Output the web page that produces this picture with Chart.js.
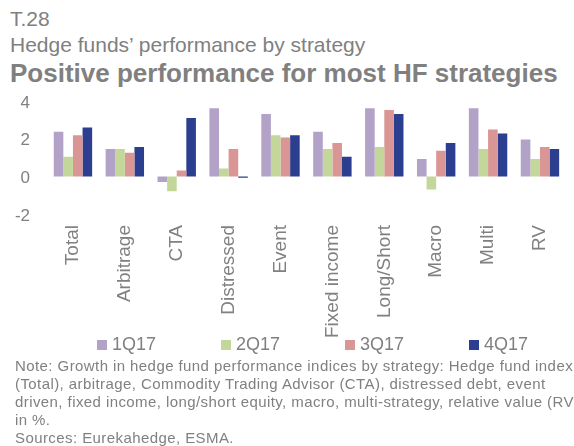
<!DOCTYPE html>
<html lang="en">
<head>
  <title>Hedge funds' performance by strategy</title>
  <script src="https://cdn.jsdelivr.net/npm/chart.js"></script>
  <style>
    body { margin: 0; width: 574px; height: 446px; overflow: hidden; background: #fff; font-family: 'Liberation Sans', Arial, sans-serif; color: #808080; position: relative; }
    .txt { position: absolute; left: 10px; white-space: nowrap; }
    #code { top: 7px; font-size: 21px; }
    #sub { top: 33px; font-size: 21px; }
    #title { top: 58px; font-size: 26px; font-weight: bold; }
    #wrap { position: absolute; left: 0; top: 74px; width: 574px; height: 270px; }
    #legend { position: absolute; top: 334px; left: 97px; display: flex; font-size: 18px; }
    #legend .item { width: 124px; display: flex; align-items: center; }
    #legend .box { width: 10px; height: 10px; margin-right: 5px; }
    #note { position: absolute; left: 15px; top: 357px; font-size: 15px; line-height: 18px; letter-spacing: 0.42px; }
    #note div { white-space: nowrap; }
  </style>
</head>
<body>
<div class="txt" id="code">T.28</div>
<div class="txt" id="sub">Hedge funds’ performance by strategy</div>
<div class="txt" id="title">Positive performance for most HF strategies</div>
<div id="wrap"><canvas id="hfChart"></canvas></div>
<div id="legend"></div>
<div id="note">
  <div>Note: Growth in hedge fund performance indices by strategy: Hedge fund index</div>
  <div>(Total), arbitrage, Commodity Trading Advisor (CTA), distressed debt, event</div>
  <div>driven, fixed income, long/short equity, macro, multi-strategy, relative value (RV)</div>
  <div>in %.</div>
  <div>Sources: Eurekahedge, ESMA.</div>
</div>

<script>
const strategies = ['Total', 'Arbitrage', 'CTA', 'Distressed', 'Event', 'Fixed income', 'Long/Short', 'Macro', 'Multi', 'RV'];
const q1 = [2.38, 1.46, -0.30, 3.63, 3.32, 2.38, 3.63, 0.93, 3.63, 1.96];
const q2 = [1.05, 1.46, -0.79, 0.42, 2.19, 1.46, 1.56, -0.70, 1.46, 0.93];
const q3 = [2.19, 1.26, 0.32, 1.46, 2.07, 1.77, 3.53, 1.37, 2.49, 1.56];
const q4 = [2.60, 1.56, 3.10, -0.07, 2.19, 1.04, 3.32, 1.77, 2.28, 1.46];
const yTicks = [-2, 0, 2, 4];

const grey = '#808080';

const chart = new Chart(document.getElementById('hfChart'), {
  type: 'bar',
  data: {
    labels: strategies,
    datasets: [
      { label: '1Q17', data: q1, backgroundColor: '#b3a2c7' },
      { label: '2Q17', data: q2, backgroundColor: '#c4d79b' },
      { label: '3Q17', data: q3, backgroundColor: '#d99694' },
      { label: '4Q17', data: q4, backgroundColor: '#2c3e8f' }
    ]
  },
  options: {
    animation: false,
    responsive: true,
    maintainAspectRatio: false,
    layout: { padding: { top: 21, right: 5, bottom: 0, left: 0 } },
    datasets: { bar: { categoryPercentage: 0.74, barPercentage: 1.0 } },
    plugins: { legend: { display: false }, tooltip: { enabled: false } },
    scales: {
      x: {
        grid: { display: false, drawTicks: false },
        border: { display: false },
        ticks: { color: grey, font: { family: 'Liberation Sans', size: 19 }, minRotation: 90, maxRotation: 90, padding: 11, autoSkip: false },
        afterFit: s => { s.height = 130; }
      },
      y: {
        min: -2, max: 4,
        grid: { display: false, drawTicks: false },
        border: { display: false },
        afterBuildTicks: s => { s.ticks = yTicks.map(v => ({ value: v })); },
        ticks: { color: grey, font: { family: 'Liberation Sans', size: 17 }, padding: 17, labelOffset: 2 },
        afterFit: s => { s.width = 47; }
      }
    }
  }
});

const legend = document.getElementById('legend');
chart.data.datasets.forEach(ds => {
  const item = document.createElement('div');
  item.className = 'item';
  const box = document.createElement('span');
  box.className = 'box';
  box.style.background = ds.backgroundColor;
  const txt = document.createElement('span');
  txt.textContent = ds.label;
  item.appendChild(box);
  item.appendChild(txt);
  legend.appendChild(item);
});
</script>
</body>
</html>
